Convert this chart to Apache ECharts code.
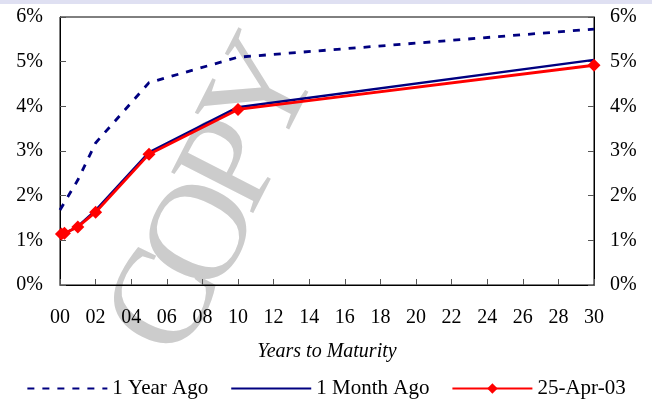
<!DOCTYPE html>
<html>
<head>
<meta charset="utf-8">
<script src="https://cdn.jsdelivr.net/npm/echarts@6/dist/echarts.min.js"></script>
<style>
  html, body { margin: 0; padding: 0; background: #fff; }
  #chart { width: 652px; height: 400px; }
</style>
</head>
<body>
<div id="chart"></div>
<script>
// maturities in years, yields in %
const yearAgoX = [0, 1, 2, 5, 10, 30];
const yearAgo = [1.68, 2.35, 3.18, 4.53, 5.1, 5.73];
const monthAgoX = [0.08, 0.25, 1, 2, 5, 10, 30];
const monthAgo = [1.12, 1.15, 1.31, 1.67, 2.97, 3.98, 5.04];
const currentX = [0.08, 0.25, 1, 2, 5, 10, 30];
const current = [1.14, 1.16, 1.3, 1.63, 2.93, 3.93, 4.92];
const seriesNames = ['1 Year Ago', '1 Month Ago', '25-Apr-03'];

const FONT = '"Liberation Serif", "Times New Roman", serif';

function pairs(xs, ys) {
    return xs.map((x, i) => [x, ys[i]]);
}

// watermark letters, placed one by one along a slanted baseline
const markLetters = ['C', 'O', 'P', 'Y'];
const markPos = [[168, 304], [206, 236], [236, 166], [266, 94]];

const chart = echarts.init(document.getElementById('chart'));

const yAxisBase = {
    type: 'value',
    min: 0,
    max: 6,
    interval: 1,
    axisLine: { show: true, lineStyle: { color: '#000', width: 1 } },
    axisTick: { show: true, inside: true, length: 6, lineStyle: { color: '#555' } },
    splitLine: { show: false },
    axisLabel: {
        color: '#000',
        fontFamily: FONT,
        fontSize: 20,
        margin: 17,
        formatter: '{value}%'
    }
};

const graphics = [
    {
        type: 'rect',
        shape: { x: 0, y: 0, width: 652, height: 4 },
        style: { fill: '#dfe0f2' },
        silent: true
    }
];
markLetters.forEach((ch, i) => {
    graphics.push({
        type: 'text',
        x: markPos[i][0],
        y: markPos[i][1],
        rotation: 63 * Math.PI / 180,
        z: -1,
        silent: true,
        style: {
            text: ch,
            fill: '#cccccc',
            font: '140px "Liberation Serif", serif',
            align: 'center',
            verticalAlign: 'middle'
        }
    });
});

// hide the fallback circle ECharts puts on legend lines without symbols
const noSymbol = { color: 'rgba(0,0,0,0)', borderWidth: 0, opacity: 0 };

const options = {
    animation: false,
    textStyle: { fontFamily: FONT },
    grid: {
        left: 60,
        right: 58,
        top: 17,
        bottom: 115,
        show: true,
        borderColor: '#000',
        borderWidth: 1
    },
    graphic: graphics,
    legend: {
        left: 'center',
        top: 373,
        itemWidth: 80,
        itemHeight: 13,
        itemGap: 22,
        textStyle: { color: '#000', fontFamily: FONT, fontSize: 21 },
        data: [
            { name: seriesNames[0], itemStyle: noSymbol },
            { name: seriesNames[1], itemStyle: noSymbol },
            { name: seriesNames[2] }
        ]
    },
    xAxis: {
        type: 'value',
        min: 0,
        max: 30,
        interval: 2,
        name: 'Years to Maturity',
        nameLocation: 'middle',
        nameGap: 57,
        nameTextStyle: { color: '#000', fontFamily: FONT, fontSize: 20, fontStyle: 'italic' },
        axisLine: { show: true, lineStyle: { color: '#000', width: 1 } },
        axisTick: { show: true, inside: true, length: 6, lineStyle: { color: '#555' } },
        splitLine: { show: false },
        axisLabel: {
            color: '#000',
            fontFamily: FONT,
            fontSize: 20,
            margin: 23,
            formatter: function (v) {
                return String(v).padStart(2, '0');
            }
        }
    },
    yAxis: [
        Object.assign({}, yAxisBase, { position: 'left' }),
        Object.assign({}, yAxisBase, {
            position: 'right',
            axisLabel: Object.assign({}, yAxisBase.axisLabel, { margin: 16 })
        })
    ],
    series: [
        {
            name: seriesNames[0],
            type: 'line',
            symbol: 'none',
            data: pairs(yearAgoX, yearAgo),
            itemStyle: { color: '#000080' },
            lineStyle: { color: '#000080', width: 2.8, type: [7, 8] },
            z: 3
        },
        {
            name: seriesNames[1],
            type: 'line',
            symbol: 'none',
            data: pairs(monthAgoX, monthAgo),
            itemStyle: { color: '#000080' },
            lineStyle: { color: '#000080', width: 2.5 },
            z: 3
        },
        {
            name: seriesNames[2],
            type: 'line',
            symbol: 'diamond',
            symbolSize: 13,
            data: pairs(currentX, current),
            itemStyle: { color: '#ff0000' },
            lineStyle: { color: '#ff0000', width: 2.8 },
            z: 4
        }
    ]
};

chart.setOption(options);
</script>
</body>
</html>
